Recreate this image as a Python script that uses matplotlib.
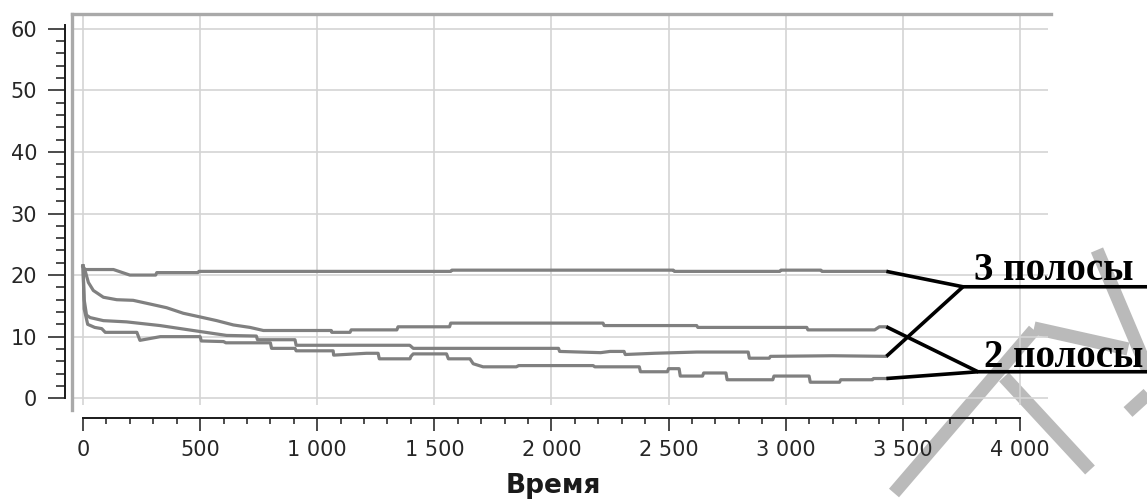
import numpy as np
import matplotlib.pyplot as plt
from matplotlib.ticker import FixedLocator

# ------------------------------------------------------------------
# data (corner points of the step curves)
# ------------------------------------------------------------------
t_a = [0, 8, 130, 200, 310, 315, 490, 495, 1570, 1575, 2520, 2525,
       2975, 2980, 3150, 3155, 3430]
v_a = [21.3, 20.9, 20.9, 20.0, 20.0, 20.4, 20.4, 20.6, 20.6, 20.8, 20.8, 20.6,
       20.6, 20.8, 20.8, 20.6, 20.6]

t_b = [0, 9, 23, 44, 87, 144, 214, 286, 357, 428, 500, 571, 642, 713, 770,
       1060, 1062, 1140, 1145, 1340, 1345, 1565, 1570, 2220, 2225, 2620, 2625,
       3090, 3095, 3380, 3400, 3430]
v_b = [21.5, 20.7, 18.8, 17.5, 16.4, 16.0, 15.9, 15.3, 14.7, 13.8, 13.2, 12.6,
       11.9, 11.5, 11.0, 11.0, 10.7, 10.7, 11.1, 11.1, 11.6, 11.6, 12.2, 12.2,
       11.8, 11.8, 11.5, 11.5, 11.1, 11.1, 11.6, 11.6]

t_c = [0, 5, 15, 30, 87, 186, 329, 470, 613, 740, 745, 905, 910, 1395, 1410,
       2030, 2035, 2210, 2250, 2310, 2315, 2440, 2620, 2840, 2845, 2930, 2935,
       3200, 3430]
v_c = [21.5, 16.0, 13.5, 13.1, 12.6, 12.4, 11.8, 11.0, 10.2, 10.1, 9.5, 9.5,
       8.6, 8.6, 8.1, 8.1, 7.6, 7.4, 7.6, 7.6, 7.1, 7.3, 7.5, 7.5, 6.5, 6.5,
       6.8, 6.9, 6.8]

t_d = [0, 5, 20, 50, 80, 95, 230, 243, 272, 330, 500, 505, 600, 610, 800, 805,
       905, 910, 1068, 1070, 1210, 1260, 1265, 1396, 1400, 1410, 1552, 1560,
       1652, 1666, 1708, 1850, 1860, 2178, 2185, 2375, 2380, 2495, 2500, 2545,
       2550, 2645, 2650, 2745, 2750, 2945, 2950, 3100, 3105, 3230, 3235, 3370,
       3375, 3430]
v_d = [21.5, 14.5, 12.0, 11.5, 11.3, 10.7, 10.7, 9.4, 9.6, 10.0, 10.0, 9.3,
       9.2, 9.0, 9.0, 8.1, 8.1, 7.7, 7.7, 7.0, 7.3, 7.3, 6.4, 6.4, 6.8, 7.2,
       7.2, 6.4, 6.4, 5.6, 5.1, 5.1, 5.3, 5.3, 5.1, 5.1, 4.3, 4.3, 4.8, 4.8,
       3.6, 3.6, 4.1, 4.1, 3.0, 3.0, 3.6, 3.6, 2.6, 2.6, 3.0, 3.0, 3.2, 3.2]

series = [(t_a, v_a), (t_b, v_b), (t_c, v_c), (t_d, v_d)]

x_ticks = [0, 500, 1000, 1500, 2000, 2500, 3000, 3500, 4000]
x_tick_labels = ['0', '500', '1 000', '1 500', '2 000', '2 500', '3 000',
                 '3 500', '4 000']
y_ticks = [0, 10, 20, 30, 40, 50, 60]

x_label = 'Время'
label_3 = '3 полосы'
label_2 = '2 полосы'

# watermark strokes in figure pixels (decoration of the scanned page)
watermark = [((1034, 330), (894, 493)),
             ((1004, 377), (1090, 470)),
             ((1034, 328), (1128, 349)),
             ((1097, 250), (1152, 380)),
             ((1128, 412), (1150, 392))]

# ------------------------------------------------------------------
W, H = 1147, 501
fig = plt.figure(figsize=(W / 100, H / 100), dpi=100)

bg = fig.add_axes([0, 0, 1, 1], zorder=-1)
bg.set_xlim(0, W)
bg.set_ylim(H, 0)
bg.axis('off')
for (x0, y0), (x1, y1) in watermark:
    bg.plot([x0, x1], [y0, y1], color='#bababa', lw=9.5, solid_capstyle='butt')

ax = fig.add_axes([72 / W, 1 - 405 / H, 976 / W, 391 / H])
ax.patch.set_visible(False)
ax.set_xlim(-47, 4120)
ax.set_ylim(-1.1, 62.4)

for t, v in series:
    ax.plot(t, v, color='#808080', lw=2.3, zorder=2)

# frame (grey, top and left)
ax.plot([0, 0], [-0.013, 1], transform=ax.transAxes, color='#a9a9a9',
        lw=2.4, clip_on=False, zorder=1)
ax.plot([0, 1.003], [1, 1], transform=ax.transAxes, color='#a9a9a9',
        lw=2.4, clip_on=False, zorder=1)

for s in ['top', 'right']:
    ax.spines[s].set_visible(False)
ax.spines['left'].set_position(('outward', 5))
ax.spines['bottom'].set_position(('outward', 9.4))
ax.spines['left'].set_bounds(0, 60.6)
ax.spines['bottom'].set_bounds(0, 4000)
for s in ['left', 'bottom']:
    ax.spines[s].set_color('#1a1a1a')
    ax.spines[s].set_linewidth(1.4)

ax.set_xticks(x_ticks)
ax.set_xticklabels(x_tick_labels)
ax.xaxis.set_minor_locator(FixedLocator(np.arange(0, 4001, 100)))
ax.yaxis.set_major_locator(FixedLocator(y_ticks))
ax.yaxis.set_minor_locator(FixedLocator(np.arange(0, 61, 2)))

ax.tick_params(axis='both', which='both', direction='out', width=1.1,
               color='#1a1a1a', labelsize=15, labelcolor='#262626')
ax.tick_params(axis='y', which='major', length=12, pad=8)
ax.tick_params(axis='y', which='minor', length=6.5)
ax.tick_params(axis='x', which='major', length=9.5, pad=6.5)
ax.tick_params(axis='x', which='minor', length=4.3)

ax.set_axisbelow(True)
ax.grid(True, which='major', color='#d4d4d4', lw=1.2)

fig.text(553 / W, 1 - 493 / H, x_label, ha='center', va='baseline',
         fontsize=19, fontweight='bold', color='#1a1a1a')

# annotations: series ends -> labels
j3 = (3757, 18.1)
j2 = (3821, 4.3)
x_end = 4560
kw = dict(color='black', lw=2.6, clip_on=False, zorder=3,
          solid_capstyle='butt')
ax.plot([t_a[-1], j3[0], x_end], [v_a[-1], j3[1], j3[1]], **kw)
ax.plot([t_c[-1], j3[0]], [v_c[-1], j3[1]], **kw)
ax.plot([t_b[-1], j2[0], x_end], [v_b[-1], j2[1], j2[1]], **kw)
ax.plot([t_d[-1], j2[0]], [v_d[-1], j2[1]], **kw)

ax.text(3805, 19.2, label_3, fontfamily='Liberation Serif', fontweight='bold',
        fontsize=28, ha='left', va='baseline', color='black', zorder=4)
ax.text(3848, 5.1, label_2, fontfamily='Liberation Serif', fontweight='bold',
        fontsize=28, ha='left', va='baseline', color='black', zorder=4)

fig.savefig('out.png', dpi=100)
